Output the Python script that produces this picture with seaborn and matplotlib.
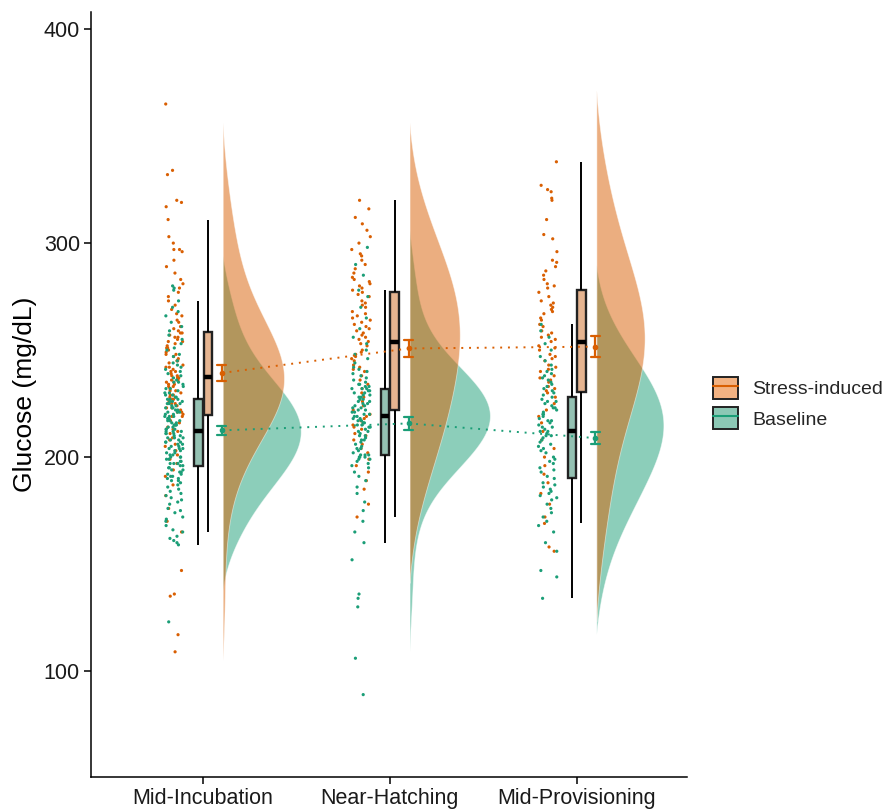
import numpy as np
import pandas as pd
import matplotlib.pyplot as plt
import seaborn as sns
from matplotlib.patches import Patch
from matplotlib.lines import Line2D

# --- dados (glicose, mg/dL) ---
STAGES = ["Mid-Incubation", "Near-Hatching", "Mid-Provisioning"]
GROUPS = ["Stress-induced", "Baseline"]

stress_mid_incubation = [
    109, 117, 135, 136, 147, 165, 170, 176, 182, 187, 191, 194, 197, 199, 201,
    203, 205, 206, 208, 209, 211, 212, 213, 214, 215, 216, 217, 218, 219, 219,
    220, 221, 221, 222, 223, 223, 224, 225, 225, 226, 227, 227, 228, 229, 229,
    230, 231, 231, 232, 233, 233, 234, 234, 235, 235, 236, 236, 237, 237, 237,
    238, 238, 239, 240, 240, 241, 242, 242, 243, 244, 245, 245, 246, 247, 248,
    248, 249, 250, 251, 251, 252, 253, 254, 254, 255, 256, 256, 257, 258, 258,
    259, 260, 261, 263, 264, 266, 267, 269, 271, 273, 275, 277, 279, 281, 283,
    286, 289, 292, 296, 297, 297, 300, 303, 311, 317, 319, 320, 332, 334, 365,
]
baseline_mid_incubation = [
    123, 159, 160, 161, 162, 163, 165, 166, 168, 170, 171, 172, 174, 175, 176,
    178, 179, 180, 181, 182, 183, 184, 185, 186, 187, 188, 189, 189, 190, 190,
    191, 191, 192, 192, 193, 193, 194, 194, 195, 195,
    196, 196, 197, 197, 197, 198, 198, 199, 199, 200, 200, 200, 201, 201, 202,
    202, 203, 203, 204, 204, 204, 205, 205, 206, 206, 207, 207, 207, 208, 208,
    209, 209, 209, 210, 210, 211, 211, 211, 212, 212,
    212, 213, 213, 213, 214, 214, 215, 215, 215, 216, 216, 217, 217, 217, 218,
    218, 219, 219, 219, 220, 220, 221, 221, 221, 222, 222, 223, 223, 223, 224,
    224, 225, 225, 225, 226, 226, 226, 227, 227, 227,
    228, 228, 229, 229, 230, 230, 231, 232, 232, 233, 234, 235, 235, 236, 237,
    238, 239, 240, 241, 242, 243, 244, 245, 247, 248, 250, 251, 253, 255, 257,
    259, 261, 263, 266, 268, 270, 273, 278, 279, 280,
]
stress_near_hatching = [
    172, 178, 185, 189, 193, 196, 199, 202, 204, 206, 208, 210, 211, 213, 214,
    215, 216, 217, 218, 219, 220,
    222, 224, 226, 228, 230, 232, 234, 236, 238, 240, 241, 242, 243, 245, 246,
    247, 248, 249, 250, 252, 253,
    254, 255, 256, 257, 258, 259, 260, 261, 262, 263, 264, 265, 266, 267, 268,
    270, 271, 272, 273, 275, 276,
    277, 278, 279, 280, 281, 282, 283, 284, 286, 288, 290, 292, 294, 295, 297,
    300, 303, 306, 309, 312, 316, 320,
]
baseline_near_hatching = [
    89, 106, 130, 134, 136, 152, 160, 165, 170, 175, 179, 183, 186, 189, 191,
    193, 195, 196, 197, 198, 199, 199, 200, 200, 200, 201, 201,
    201, 202, 203, 204, 204, 205, 206, 207, 208, 208, 209, 210, 210, 211, 212,
    212, 213, 214, 214, 215, 215, 216, 216, 217, 217, 218, 218, 219,
    219, 220, 220, 221, 221, 222, 222, 223, 223, 224, 224, 225, 225, 226, 226,
    227, 227, 228, 228, 229, 229, 230, 230, 231, 231, 232, 232, 232,
    233, 233, 234, 234, 235, 236, 237, 238, 239, 240, 241, 242, 244, 246, 248,
    250, 253, 256, 260, 265, 270, 275, 278, 285, 290, 298,
]
stress_mid_provisioning = [
    156, 158, 169, 172, 178, 183, 188, 192, 196, 200, 204, 208, 212, 216, 219,
    222, 225, 228, 230,
    231, 232, 233, 235, 236, 237, 238, 240, 241, 242, 243, 245, 246, 247, 248,
    250, 251, 252, 254,
    255, 256, 257, 258, 259, 261, 262, 264, 265, 267, 268, 269, 270, 271, 272,
    273, 275, 277,
    279, 280, 281, 283, 285, 287, 289, 291, 292, 296, 302, 304, 311, 320, 321,
    324, 325, 327, 338,
]
baseline_mid_provisioning = [
    134, 144, 147, 156, 160, 165, 168, 170, 172, 174, 176, 178, 180, 181, 182,
    183, 184, 185, 186, 187, 188,
    190, 191, 193, 194, 195, 197, 198, 199, 200, 202, 203, 204, 205, 206, 207,
    208, 209, 210, 210, 211, 212,
    212, 213, 214, 214, 215, 216, 217, 217, 218, 219, 220, 220, 221, 222, 223,
    223, 224, 225, 226, 226, 227,
    228, 229, 230, 231, 232, 233, 234, 235, 236, 237, 238, 239, 240, 241, 243,
    245, 247, 250, 253, 256, 259, 262,
]

DATA = {
    ("Stress-induced", 1): stress_mid_incubation,
    ("Baseline", 1): baseline_mid_incubation,
    ("Stress-induced", 2): stress_near_hatching,
    ("Baseline", 2): baseline_near_hatching,
    ("Stress-induced", 3): stress_mid_provisioning,
    ("Baseline", 3): baseline_mid_provisioning,
}

COLORS = {"Stress-induced": "#D95F02", "Baseline": "#1B9E77"}
BOX_FILL = {"Stress-induced": "#F3B282", "Baseline": "#8CC8B5"}


def kde(vals, grid, adjust=2.0):
    """Densidade gaussiana com largura de banda robusta (baseada no IQR)."""
    v = np.asarray(vals, float)
    q1, q3 = np.percentile(v, [25, 75])
    spread = min(v.std(ddof=1), (q3 - q1) / 1.34)
    bw = 0.9 * spread * len(v) ** -0.2 * adjust
    z = (grid[:, None] - v[None, :]) / bw
    return np.exp(-0.5 * z ** 2).sum(1) / (len(v) * bw * np.sqrt(2 * np.pi))


rows = []
for (g, s), vals in DATA.items():
    for v in vals:
        rows.append({"group": g, "stage": s, "glucose": v})
df = pd.DataFrame(rows)
df["strip_x"] = df["stage"] - 0.155
df["mean_x"] = df["stage"] + 0.1

sns.set_theme(style="ticks")
plt.rcParams["font.family"] = ["Liberation Sans", "DejaVu Sans"]

fig = plt.figure(figsize=(8.96, 8.1), dpi=100)
ax = fig.add_axes([91 / 896, 1 - 777 / 810, (687 - 91) / 896, (777 - 12) / 810])

# meias-violinos (densidade) - baseline primeiro, stress por cima
grid = np.linspace(60, 400, 700)
curves = {}
for k, v in DATA.items():
    d = kde(v, grid)
    curves[k] = np.clip(d - d.max() * 0.04, 0, None)  # afina as caudas até zero
scale = 0.43 / max(d.max() for d in curves.values())
for g in ["Baseline", "Stress-induced"]:
    for s in [1, 2, 3]:
        dens = curves[(g, s)]
        keep = dens > 0
        base = s + 0.105
        ax.fill_betweenx(grid[keep], base, base + dens[keep] * scale, color=COLORS[g],
                         alpha=0.5, linewidth=0.6, edgecolor=(1, 1, 1, 0.35), zorder=1)

# pontos
np.random.seed(3)
sns.stripplot(data=df, x="strip_x", y="glucose", hue="group",
              hue_order=["Stress-induced", "Baseline"], palette=COLORS,
              native_scale=True, jitter=0.05, size=2.3, linewidth=0,
              legend=False, ax=ax, zorder=2)

# boxplots
sns.boxplot(data=df, x="stage", y="glucose", hue="group",
            hue_order=["Baseline", "Stress-induced"], palette=BOX_FILL,
            native_scale=True, width=0.1, gap=0.1, dodge=True,
            showfliers=False, showcaps=False, linecolor="#222222", linewidth=1.7,
            medianprops={"color": "black", "linewidth": 3.2},
            whiskerprops={"color": "black", "linewidth": 1.4},
            legend=False, ax=ax)

# médias +- erro padrão ligadas por linhas pontilhadas
sns.pointplot(data=df, x="mean_x", y="glucose", hue="group",
              hue_order=["Baseline", "Stress-induced"], palette=COLORS,
              native_scale=True, errorbar="se", capsize=0.05,
              markers="o", markersize=3, linestyle=(0, (1, 3)), linewidth=1.4,
              err_kws={"linewidth": 1.6, "linestyle": "-"},
              legend=False, ax=ax)

ax.set_xlim(0.4, 3.59)
ax.set_ylim(50.5, 408)
ax.set_xticks([1, 2, 3], STAGES)
ax.set_yticks([100, 200, 300, 400])
ax.set_xlabel("")
ax.set_ylabel("Glucose (mg/dL)", fontsize=19, color="black", labelpad=5)
ax.tick_params(axis="both", direction="out", length=5, width=1.1, colors="black",
               labelsize=15.5, labelcolor="#1a1a1a", pad=3)
for sp in ["left", "bottom"]:
    ax.spines[sp].set_linewidth(1.1)
    ax.spines[sp].set_color("black")
sns.despine(ax=ax)
ax.grid(False)

handles = []
for g in GROUPS:
    handles.append((Patch(facecolor=BOX_FILL[g], edgecolor="#222222", linewidth=1.4),
                    Line2D([], [], color=COLORS[g], linewidth=1.5)))
fig.legend(handles, GROUPS, loc="center left", bbox_to_anchor=(713 / 896, 1 - 403 / 810),
           frameon=False, fontsize=14, handlelength=1.3, handleheight=1.4,
           handletextpad=0.7, borderpad=0, borderaxespad=0, labelspacing=0.4)

fig.savefig("out.png", dpi=100)
